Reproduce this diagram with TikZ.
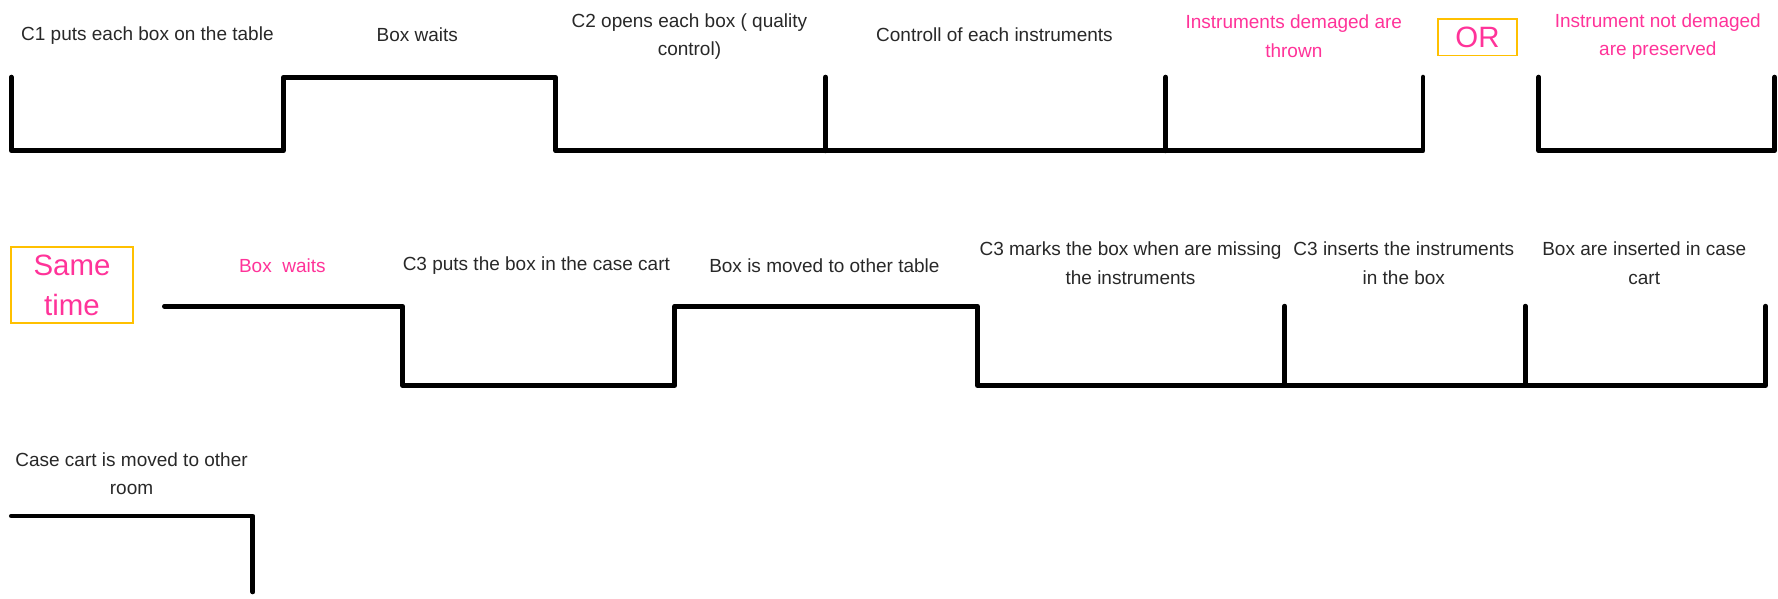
\documentclass[tikz,border=0pt]{standalone}
\usepackage{fontspec}
\setmainfont{Liberation Sans}
\usepackage{tikz}

\definecolor{pinktext}{RGB}{255,51,153}
\definecolor{orangebox}{RGB}{255,192,0}
\definecolor{greytext}{RGB}{40,40,40}

\begin{document}
\begin{tikzpicture}[x=0.567pt, y=-0.567pt,
		label_style/.style={align=center,inner sep=0pt,text=greytext,font=\fontsize{9.5}{14.2}\selectfont},
		pink_style/.style={label_style,text=pinktext},
		frame_style/.style={draw=orangebox,line width=0.9pt,text=pinktext,inner sep=0pt,font=\fontsize{14.7}{19.8}\selectfont,align=center},
		wave_style/.style={draw=black,line width=2.4pt,line join=round,line cap=round}]

		\useasboundingbox (0,0) rectangle (1568,527.4);

		% first row
		\coordinate (a0) at (10,68);
		\coordinate (a1) at (10,133);
		\coordinate (a2) at (250,133);
		\coordinate (a3) at (250,68);
		\coordinate (a4) at (490,68);
		\coordinate (a5) at (490,133);
		\coordinate (a6) at (728,133);
		\coordinate (a7) at (728,68);
		\coordinate (a8) at (1028,133);
		\coordinate (a9) at (1028,68);
		\coordinate (a10) at (1255,133);
		\coordinate (a11) at (1255,68);
		\coordinate (a12) at (1357,68);
		\coordinate (a13) at (1357,133);
		\coordinate (a14) at (1565,133);
		\coordinate (a15) at (1565,68);

		\draw[wave_style] (a0) -- (a1) -- (a2) -- (a3) -- (a4) -- (a5) -- (a10) -- (a11);
		\draw[wave_style] (a6) -- (a7);
		\draw[wave_style] (a8) -- (a9);
		\draw[wave_style] (a12) -- (a13) -- (a14) -- (a15);

		\node[label_style] (t1) at (130,31) {C1 puts each box on the table};
		\node[label_style] (t2) at (368,31) {Box waits};
		\node[label_style] (t3) at (608,32) {C2 opens each box ( quality\\control)};
		\node[label_style] (t4) at (877,31) {Controll of each instruments};
		\node[pink_style] (t5) at (1141,32) {Instruments demaged are\\thrown};
		\node[frame_style,minimum width=39.7pt,minimum height=18.1pt] (or) at (1303,33) {OR};
		\node[pink_style] (t6) at (1462,32) {Instrument not demaged\\are preserved};

		% second row
		\coordinate (b0) at (145,270);
		\coordinate (b1) at (355,270);
		\coordinate (b2) at (355,340);
		\coordinate (b3) at (595,340);
		\coordinate (b4) at (595,270);
		\coordinate (b5) at (862,270);
		\coordinate (b6) at (862,340);
		\coordinate (b7) at (1133,340);
		\coordinate (b8) at (1133,270);
		\coordinate (b9) at (1345,340);
		\coordinate (b10) at (1345,270);
		\coordinate (b11) at (1557,340);
		\coordinate (b12) at (1557,270);

		\draw[wave_style] (b0) -- (b1) -- (b2) -- (b3) -- (b4) -- (b5) -- (b6) -- (b11) -- (b12);
		\draw[wave_style] (b7) -- (b8);
		\draw[wave_style] (b9) -- (b10);

		\node[frame_style,minimum width=60.7pt,minimum height=38pt] (same) at (63.5,251.5) {Same\\time};
		\node[pink_style] (s1) at (249,234) {Box\ \ waits};
		\node[label_style] (s2) at (473,234) {C3 puts the box in the case cart};
		\node[label_style] (s3) at (727,234) {Box is moved to other table};
		\node[label_style] (s4) at (997,232) {C3 marks the box when are missing\\the instruments};
		\node[label_style] (s5) at (1238,232) {C3 inserts the instruments\\in the box};
		\node[label_style] (s6) at (1450,232) {Box are inserted in case\\cart};

		% third row
		\coordinate (c0) at (10,455);
		\coordinate (c1) at (223,455);
		\coordinate (c2) at (223,522);

		\draw[wave_style] (c0) -- (c1) -- (c2);

		\node[label_style] (r1) at (116,418) {Case cart is moved to other\\room};

\end{tikzpicture}
\end{document}
